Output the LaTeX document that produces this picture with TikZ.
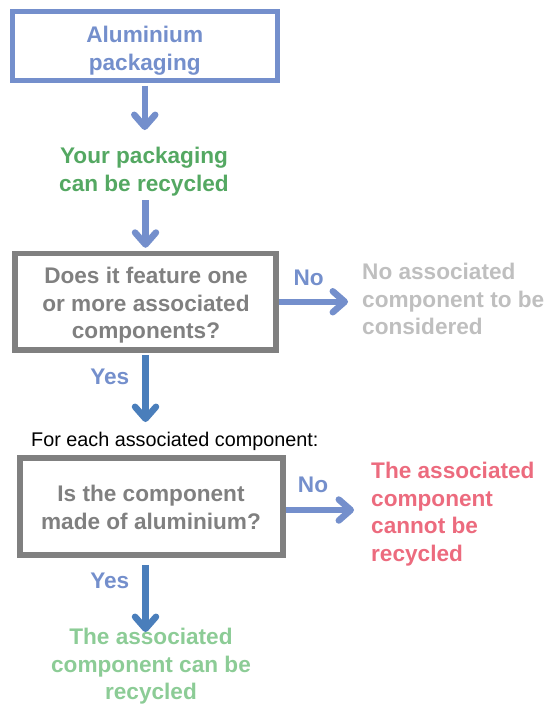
\documentclass[tikz,border=0pt]{standalone}
\usepackage{fontspec}
\setmainfont{Liberation Sans}
\usetikzlibrary{arrows.meta}

\definecolor{boxblue}{RGB}{116,143,204}
\definecolor{yesblue}{RGB}{74,126,187}
\definecolor{boxgray}{RGB}{128,128,128}
\definecolor{palegray}{RGB}{191,191,191}
\definecolor{okgreen}{RGB}{84,168,98}
\definecolor{palegreen}{RGB}{140,204,150}
\definecolor{nored}{RGB}{236,107,126}

\tikzset{
  bigtxt/.style={font=\fontsize{22.6}{27.7}\selectfont\bfseries, inner sep=0pt},
  qbox/.style={draw=boxgray, line width=5.5pt, inner sep=0pt},
  flow/.style={draw=boxblue, line width=6.5pt, -{Straight Barb[length=12pt,width=21pt,round]}},
  yesflow/.style={flow, draw=yesblue},
  lbl/.style={bigtxt, text=boxblue}
}

\begin{document}
\begin{tikzpicture}[x=1pt,y=1pt,yscale=-1,xscale=1]
\path[use as bounding box] (0,0) rectangle (552,707);

%Shape: Rectangle [start]
\node [qbox, draw=boxblue, line width=5pt, minimum width=264.5pt, minimum height=69pt] (alu) at (144.75,46) {};
% Text Node
\node [bigtxt, text=boxblue, align=center, anchor=north] (alutxt) at (144.75,26) {Aluminium\\packaging};

% Text Node
\node [bigtxt, text=okgreen, align=center, anchor=north] (canrec) at (144,147) {Your packaging\\can be recycled};

%Shape: Rectangle [question 1]
\node [qbox, minimum width=261pt, minimum height=96.5pt] (qone) at (145.5,301.75) {};
% Text Node
\node [bigtxt, text=boxgray, align=center, anchor=north] (qonetxt) at (146,267) {Does it feature one\\or more associated\\components?};

% Text Node
\node [bigtxt, text=palegray, align=left, anchor=north west] (nocomp) at (362,263) {No associated\\component to be\\considered};

% Text Node
\node [font=\fontsize{19.8}{24}\selectfont, inner sep=0pt, anchor=north west] (each) at (31,432) {For each associated component:};

%Shape: Rectangle [question 2]
\node [qbox, minimum width=263pt, minimum height=97pt] (qtwo) at (151.5,506.5) {};
% Text Node
\node [bigtxt, text=boxgray, align=center, anchor=north] (qtwotxt) at (151,485) {Is the component\\made of aluminium?};

% Text Node
\node [bigtxt, text=nored, align=left, anchor=north west] (notrec) at (371,462) {The associated\\component\\cannot be\\recycled};

% Text Node
\node [bigtxt, text=palegreen, align=center, anchor=north] (comprec) at (151,628) {The associated\\component can be\\recycled};

%Arrows
\draw [flow, shorten <=2.5pt, shorten >=17pt] (alu.south) -- (alu.south |- canrec.north);
\draw [flow, shorten <=4pt, shorten >=3pt] (canrec.south -| qone.north) -- (qone.north);
\draw [flow, shorten >=14pt] (qone.east) -- (qone.east -| nocomp.west)
  node [lbl, pos=0.36, above=13pt] {No};
\draw [yesflow, shorten <=2.5pt, shorten >=10pt] (qone.south) -- (qone.south |- each.north)
  node [lbl, pos=0.3, left=13pt] {Yes};
\draw [flow, shorten >=17pt] ([yshift=3.5pt]qtwo.east) -- ([yshift=3.5pt]qtwo.east -| notrec.west)
  node [lbl, pos=0.32, above=14pt] {No};
\draw [yesflow, shorten <=7pt, shorten >=-4pt] (qtwo.south -| qone.south) -- (qone.south |- comprec.north)
  node [lbl, pos=0.33, left=13pt] {Yes};

\end{tikzpicture}
\end{document}
